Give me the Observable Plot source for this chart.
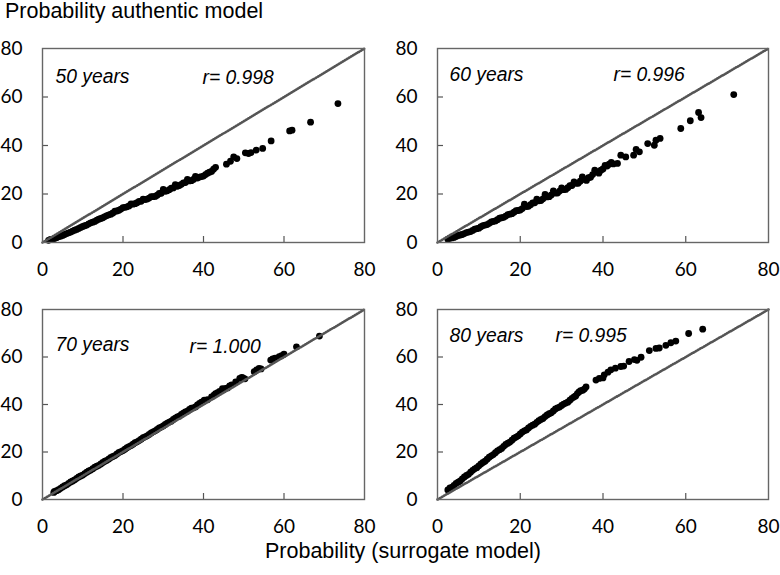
<!DOCTYPE html>
<html><head><meta charset="utf-8">
<script src="https://cdn.jsdelivr.net/npm/d3@7"></script>
<script src="https://cdn.jsdelivr.net/npm/@observablehq/plot@0.6"></script>
<style>
body{margin:0;background:#fff}
#wrap{position:relative;width:780px;height:575px;overflow:hidden;background:#fff}
.panel{position:absolute}
.ttl{position:absolute;font-family:"Liberation Sans",Arial,sans-serif;font-size:21.5px;color:#000;white-space:nowrap;line-height:21px}
</style></head><body>
<div id="wrap">
<div class="ttl" style="left:5px;top:1px">Probability authentic model</div>
<div class="ttl" style="left:0;width:806px;text-align:center;top:541px">Probability (surrogate model)</div>
</div>
<script>
const tickValues = [0, 20, 40, 60, 80];
const innerTicks = [20, 40, 60];
const diag = [0, 80];

const labels = ["50 years", "60 years", "70 years", "80 years"];
const rLabels = ["r= 0.998", "r= 0.996", "r= 1.000", "r= 0.995"];

const pts50 = [[1.5,0.9],[2.5,1.4],[3.5,2.0],[4.5,2.6],[5.5,3.3],[6.5,4.0],[7.5,4.7],[8.5,5.4],[9.5,6.2],[10.5,6.9],[11.5,7.7],[12.5,8.4],[13.5,9.2],[14.5,9.9],[15.5,10.7],[16.5,11.4],[17.5,12.2],[18.5,13.0],[19.5,13.8],[20.5,14.5],[21.5,15.1],[22.5,15.8],[23.5,16.4],[24.5,17.0],[25.5,17.7],[26.5,18.3],[27.5,18.9],[28.5,19.5],[29.5,20.3],[30.5,21.1],[31.5,21.8],[32.5,22.5],[33.5,23.2],[34.5,24.0],[35.5,24.7],[36.5,25.4],[37.5,26.0],[38.5,26.6],[39.5,27.2],[40.5,28.0],[41.5,29.0],[42.5,30.2],[43,31.0],
 [2,1.3],[3,1.6],[4,2.4],[5,2.9],[6,3.7],[7,4.3],[8,5.1],[9,5.8],[10,6.6],[11,7.2],[12,8.1],[13,8.7],[14,9.6],[15,10.2],[16,11.1],[17,11.7],[18,12.9],[19,13.3],[20,14.4],[21,14.7],[22,15.9],[23,16.0],[24,17.0],[25,17.9],[26,17.9],[27,18.9],[28,19.0],[29,20.2],[30,21.9],[31,21.3],[32,22.4],[33,23.9],[34,23.5],[35,24.6],[36,26.0],[37,25.5],[38,27.3],[39,27.0],[40,27.4],[41,28.6],[42,29.3],
 [45.7,32.3],[46.7,33.5],[47.5,35.3],[48.3,34.6],[50.4,37.0],[51.2,36.7],[51.8,37.1],[53.1,38.1],[54.7,38.8],[56.8,41.9],[61.4,46.0],[62.0,46.3],[66.6,49.6],[73.4,57.3]];

const pts60 = [[2.5,1.3],[3.5,1.9],[4.5,2.5],[5.5,3.1],[6.5,3.7],[7.5,4.3],[8.5,5.0],[9.5,5.7],[10.5,6.5],[11.5,7.2],[12.5,7.9],[13.5,8.7],[14.5,9.4],[15.5,10.2],[16.5,10.9],[17.5,11.7],[18.5,12.5],[19.5,13.2],[20.5,14.0],[21.5,14.8],[22.5,15.6],[23.5,16.4],[24.5,17.2],[25.5,18.0],[26.5,18.8],[27.5,19.6],[28.5,20.4],[29.5,21.2],[30.5,21.8],[31.5,22.6],[32.5,23.5],[33.5,24.4],[34.5,25.3],[35.5,26.0],[36.5,26.7],[37.5,28.0],[38.5,29.2],[39.5,29.8],[40.5,31.8],[41.5,32.3],[42.5,32.4],
 [3,1.8],[4,2.1],[5,2.9],[6,3.3],[7,4.1],[8,4.5],[9,5.5],[10,5.9],[11,7.0],[12,7.4],[13,8.5],[14,8.9],[15,10.0],[16,10.4],[17,11.5],[18,11.9],[19,13.1],[20,13.4],[21,15.8],[22,14.9],[23,16.3],[24,17.9],[25,17.3],[26,19.8],[27,18.9],[28,21.3],[29,20.4],[30,22.5],[31,21.9],[32,23.4],[33,25.0],[34,24.4],[35,27.1],[36,25.6],[37,26.9],[38,29.8],[39,28.6],[40,30.3],[41,31.5],[42,33.0],
 [43.5,32.6],[44.3,36.0],[45.5,35.3],[47.4,36.0],[48,38.4],[48.8,37.4],[50.8,40.8],[52.4,40.1],[52.8,42.2],[53.8,42.9],[58.8,47.0],[61.1,50.2],[63.1,53.6],[63.7,51.5],[71.6,61.0]];

const pts70 = [[2.8,3.0],[3.5,3.7],[4.5,4.7],[5.5,5.8],[6.5,6.8],[7.5,7.8],[8.5,8.9],[9.5,9.9],[10.5,10.9],[11.5,12.0],[12.5,13.0],[13.5,14.0],[14.5,15.0],[15.5,16.1],[16.5,17.1],[17.5,18.1],[18.5,19.2],[19.5,20.2],[20.5,21.2],[21.5,22.3],[22.5,23.3],[23.5,24.3],[24.5,25.4],[25.5,26.4],[26.5,27.4],[27.5,28.5],[28.5,29.5],[29.5,30.5],[30.5,31.6],[31.5,32.6],[32.5,33.7],[33.5,34.8],[34.5,35.8],[35.5,36.9],[36.5,37.9],[37.5,38.6],[38.5,39.8],[39.5,41.0],[40.2,41.8],[42.6,43.9],[43.5,45.0],[44.7,46.7],[45.5,46.8],[46.5,47.8],[48,49.5],[49,51],[49.8,51.2],[50.3,50.8],[52.6,53.8],[53.8,55.2],[54.3,55.0],[56.7,58.7],[57.8,59.5],[58.8,60.1],[60,61.2],[63.1,64.3],[68.8,68.8],
 [3,3.4],[4,4.1],[5,5.3],[6,6.2],[7,7.4],[8,8.3],[9,9.5],[10,10.3],[11,11.5],[12,12.4],[13,13.6],[14,14.4],[15,15.6],[16,16.5],[17,17.7],[18,18.5],[19,19.8],[20,20.6],[21,21.8],[22,22.7],[23,23.9],[24,24.8],[25,26.0],[26,26.8],[27,28.0],[28,28.9],[29,30.1],[30,31.0],[31,32.2],[32,33.0],[33,34.3],[34,35.1],[35,36.4],[36,37.2],[37,38.5],[38,39.0],[39,40.5],[40,41.3],[41,42.0],[42,43.2],[43,44.6],[44,45.5],[45,46.2],[46,47.0],[47,48.3],[49.5,51.4],[53.2,54.6],[57.2,59.2],[59.4,60.6]];

const pts80 = [[2.5,4.0],[3.2,4.8],[4,5.9],[5,7.3],[6,8.7],[7,10.1],[8,11.5],[9,12.9],[10,14.2],[11,15.6],[12,17.0],[13,18.4],[14,19.7],[15,21.0],[16,22.4],[17,23.7],[18,25.0],[19,26.3],[20,27.6],[21,28.9],[22,30.1],[23,31.3],[24,32.5],[25,33.7],[26,34.9],[27,36.1],[28,37.3],[29,38.6],[30,39.6],[31,40.6],[32,41.8],[33,43.2],[33.8,44.6],[34.6,45.8],[35.5,46.5],[35.9,47.4],
 [3,4.9],[3.6,5.2],[4.5,6.8],[5.5,7.8],[6.5,9.5],[7.5,10.6],[8.5,12.3],[9.5,13.4],[10.5,15.0],[11.5,16.1],[12.5,17.8],[13.5,18.9],[14.5,20.5],[15.5,21.5],[16.5,23.2],[17.5,24.2],[18.5,25.8],[19.5,26.8],[20.5,28.4],[21.5,29.3],[22.5,30.8],[23.5,31.7],[24.5,33.2],[25.5,34.1],[26.5,35.6],[27.5,36.5],[28.5,38.1],[29.5,38.9],[30.5,40.2],[31.5,41.0],[32.5,42.6],[33.4,43.6],[34.2,45.3],[35.1,46.0],
 [38.3,50.3],[39.1,51.0],[40.0,51.2],[40.3,52.5],[41.2,53.6],[41.9,54.6],[43,55.3],[44.3,56.0],[45,56.2],[46.3,58.1],[47.6,58.9],[48.2,58.6],[49.2,59.9],[51.2,62.7],[52.8,63.6],[53.6,63.8],[55.2,64.9],[56.4,66.0],[57.6,66.7],[60.7,69.9],[64.1,71.7]];

const panels = [
  {pts: pts50, i: 0, left: 0,   top: 0,   w: 390, h: 280, ml: 42, mr: 26, mt: 48, mb: 38, ndx: 13, ndy: 34, rdx: 160, rdy: 35},
  {pts: pts60, i: 1, left: 390, top: 0,   w: 390, h: 280, ml: 47, mr: 12, mt: 48, mb: 38, ndx: 12, ndy: 32, rdx: 176, rdy: 32},
  {pts: pts70, i: 2, left: 0,   top: 280, w: 390, h: 295, ml: 42, mr: 26, mt: 29, mb: 76, ndx: 13, ndy: 41, rdx: 147, rdy: 43},
  {pts: pts80, i: 3, left: 390, top: 280, w: 390, h: 295, ml: 47, mr: 12, mt: 29, mb: 76, ndx: 12, ndy: 32, rdx: 118, rdy: 32}
];

const wrap = document.getElementById("wrap");
for (const p of panels) {
  const iw = p.w - p.ml - p.mr, ih = p.h - p.mt - p.mb;
  const italic = {frameAnchor: "top-left", lineAnchor: "bottom", textAnchor: "start", fontStyle: "italic",
                  fontFamily: "'Liberation Sans', Arial, sans-serif", fontSize: 19.3, fill: "#000", text: d => d};
  const chart = Plot.plot({
    width: p.w, height: p.h,
    marginLeft: p.ml, marginRight: p.mr, marginTop: p.mt, marginBottom: p.mb,
    x: {domain: [0, 80], label: null},
    y: {domain: [0, 80], label: null},
    style: {fontFamily: "Lato, sans-serif", fontSize: "19px", color: "#000", background: "transparent"},
    marks: [
      Plot.axisX(tickValues, {tickSize: 0, tickPadding: 20, fontSize: 19, fill: "#000"}),
      Plot.axisY(tickValues, {tickSize: 0, tickPadding: 20, fontSize: 19, fill: "#000"}),
      Plot.ruleX(innerTicks, {insetTop: ih - 6, stroke: "#555", strokeWidth: 1.2}),
      Plot.ruleY(innerTicks, {insetRight: iw - 6, stroke: "#555", strokeWidth: 1.2}),
      Plot.dot(p.pts, {x: d => d[0], y: d => d[1], r: 3.4, fill: "#000"}),
      Plot.line(diag, {x: d => d, y: d => d, stroke: "#555", strokeWidth: 2.6, strokeDasharray: "1,1.4"}),
      Plot.frame({stroke: "#666", strokeWidth: 1.4}),
      Plot.text([labels[p.i]], {...italic, dx: p.ndx, dy: p.ndy}),
      Plot.text([rLabels[p.i]], {...italic, dx: p.rdx, dy: p.rdy})
    ]
  });
  const div = document.createElement("div");
  div.className = "panel";
  div.style.left = p.left + "px";
  div.style.top = p.top + "px";
  div.appendChild(chart);
  wrap.appendChild(div);
}
</script>
</body></html>
